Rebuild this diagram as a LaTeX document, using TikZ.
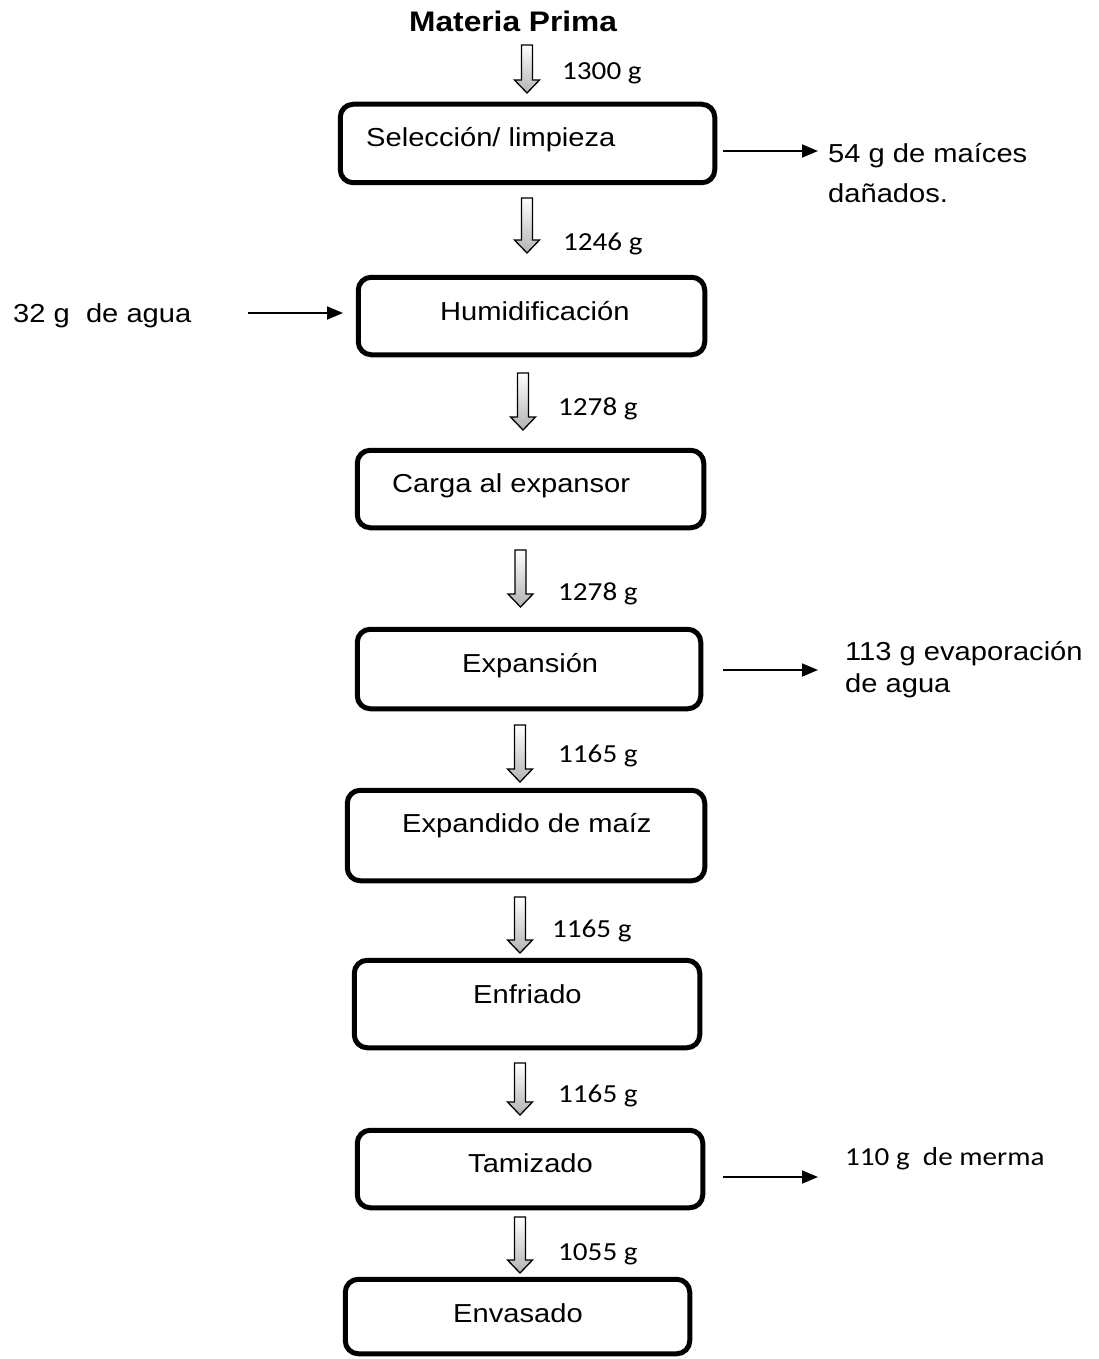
\documentclass[tikz,border=0pt]{standalone}
\usepackage{fontspec}
\setmainfont{Liberation Sans}[FakeStretch=1.12]
\newfontfamily\califont{Carlito}[FakeStretch=1.12]
\usetikzlibrary{calc,arrows.meta}
\tikzset{
  stepbox/.style={draw=black,line width=5pt,rounded corners=13pt,inner sep=0pt},
  boxtext/.style={anchor=base west,inner sep=0pt,font=\fontsize{26}{31}\selectfont},
  wtext/.style={anchor=base west,inner sep=0pt,font=\califont\fontsize{26}{31}\selectfont},
  sidetext/.style={anchor=base west,inner sep=0pt,font=\fontsize{26}{31}\selectfont},
  sidearrow/.style={line width=1.8pt,-{Triangle[length=16pt,width=13pt]}},
  harrowstyle/.style={draw=black,line width=1.3pt,top color=white,bottom color=gray!60,line join=miter}
}
\newcommand\harrow[2]{\shade[harrowstyle] let \p1=(#1), \p2=(#2) in
  (\x1-5.5pt,\y1) -- (\x1+5.5pt,\y1) -- (\x1+5.5pt,\y2+13pt) -- (\x1+12.5pt,\y2+13pt)
  -- (\x1,\y2) -- (\x1-12.5pt,\y2+13pt) -- (\x1-5.5pt,\y2+13pt) -- cycle;}
\begin{document}
\begin{tikzpicture}[x=1pt,y=-1pt]
\useasboundingbox (0,0) rectangle (1098,1359);
% title
\node[anchor=base west,inner sep=0pt,font=\bfseries\fontsize{28.3}{33}\selectfont] (title) at (409,32) {Materia Prima};
% boxes
\node[stepbox,minimum width=374.5pt,minimum height=78.5pt] (b1) at (527.5,143.5) {};
\node[stepbox,minimum width=346.5pt,minimum height=77.5pt] (b2) at (531.5,316) {};
\node[stepbox,minimum width=346.5pt,minimum height=77.5pt] (b3) at (530.5,489) {};
\node[stepbox,minimum width=343.5pt,minimum height=79.5pt] (b4) at (529,669) {};
\node[stepbox,minimum width=357.5pt,minimum height=90.5pt] (b5) at (526,835.5) {};
\node[stepbox,minimum width=345.5pt,minimum height=87.5pt] (b6) at (527,1004) {};
\node[stepbox,minimum width=345.5pt,minimum height=77.5pt] (b7) at (530,1169) {};
\node[stepbox,minimum width=344.5pt,minimum height=74.5pt] (b8) at (517.5,1316.5) {};
% box texts
\node[boxtext] (t1) at (366,147) {Selección/ limpieza};
\node[boxtext] (t2) at (440,320) {Humidificación};
\node[boxtext] (t3) at (392,492) {Carga al expansor};
\node[boxtext] (t4) at (462,672) {Expansión};
\node[boxtext] (t5) at (402,832) {Expandido de maíz};
\node[boxtext] (t6) at (473,1003) {Enfriado};
\node[boxtext] (t7) at (468,1172) {Tamizado};
\node[boxtext] (t8) at (453,1322) {Envasado};
% weights
\node[wtext] (w1) at (562,80) {1300 g};
\node[wtext] (w2) at (563,250) {1246 g};
\node[wtext] (w3) at (558,415) {1278 g};
\node[wtext] (w4) at (558,600) {1278 g};
\node[wtext] (w5) at (558,762) {1165 g};
\node[wtext] (w6) at (552,937) {1165 g};
\node[wtext] (w7) at (558,1102) {1165 g};
\node[wtext] (w8) at (558,1260) {1055 g};
% hollow arrows
\coordinate (a1t) at (527,45);   \coordinate (a1b) at (527,93);
\coordinate (a2t) at (527,198);  \coordinate (a2b) at (527,253);
\coordinate (a3t) at (523,373);  \coordinate (a3b) at (523,430);
\coordinate (a4t) at (520.5,550);\coordinate (a4b) at (520.5,607);
\coordinate (a5t) at (520,725);  \coordinate (a5b) at (520,782);
\coordinate (a6t) at (520,897);  \coordinate (a6b) at (520,953);
\coordinate (a7t) at (520,1063); \coordinate (a7b) at (520,1115);
\coordinate (a8t) at (520,1217); \coordinate (a8b) at (520,1273);
\harrow{a1t}{a1b}
\harrow{a2t}{a2b}
\harrow{a3t}{a3b}
\harrow{a4t}{a4b}
\harrow{a5t}{a5b}
\harrow{a6t}{a6b}
\harrow{a7t}{a7b}
\harrow{a8t}{a8b}
% side texts
\node[sidetext] (s1) at (828,163) {54 g de maíces};
\node[sidetext] (s1b) at (828,202) {dañados.};
\node[sidetext] (s2) at (13,322) {32 g\ \ de agua};
\node[sidetext] (s3) at (845,660) {113 g evaporación};
\node[sidetext] (s3b) at (845,692) {de agua};
\node[wtext] (s4) at (845,1165) {110 g\ \ de merma};
% side arrows
\coordinate (c1a) at (723,151);  \coordinate (c1b) at (818,151);
\coordinate (c2a) at (248,313);  \coordinate (c2b) at (343,313);
\coordinate (c3a) at (723,670);  \coordinate (c3b) at (818,670);
\coordinate (c4a) at (723,1177); \coordinate (c4b) at (818,1177);
\draw[sidearrow] (c1a) -- (c1b);
\draw[sidearrow] (c2a) -- (c2b);
\draw[sidearrow] (c3a) -- (c3b);
\draw[sidearrow] (c4a) -- (c4b);
\end{tikzpicture}
\end{document}
